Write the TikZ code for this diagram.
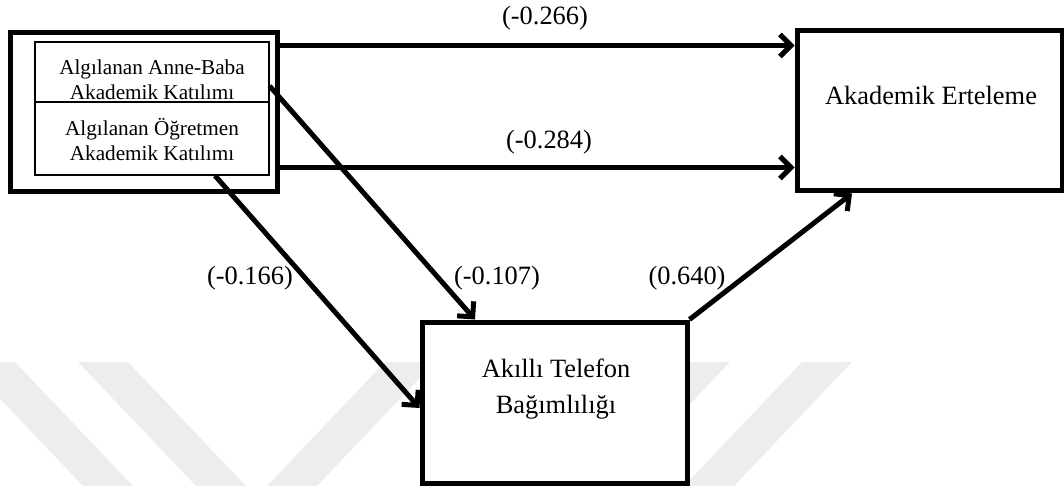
\documentclass[tikz,border=0pt]{standalone}
\usepackage{fontspec}
\setmainfont{Liberation Serif}
\usetikzlibrary{arrows.meta}

\begin{document}
\begin{tikzpicture}[x=0.5pt,y=-0.5pt,every node/.style={shape=rectangle,align=center,inner sep=0pt},
    box/.style={draw,fill=white,line width=2.5pt,minimum width=132.5pt,minimum height=80pt},
    cell/.style={draw,line width=0.6pt,minimum width=117pt},
    arr/.style={line width=2.5pt,-{Straight Barb[length=5.5pt,width=11pt]}},
    lbl/.style={font=\fontsize{13.2}{18}\selectfont},
    small/.style={font=\fontsize{10.6}{12.5}\selectfont},
    wmark/.style={fill=black!7}]
  \useasboundingbox (0,0) rectangle (1064,486);
  \begin{scope}
    \clip (0,0) rectangle (1064,486);
    \foreach \u in {-35,78}
      \fill[wmark] (\u,362) -- ++(50,0) -- ++(118,124) -- ++(-50,0) -- cycle;
    \foreach \u in {385,680,802}
      \fill[wmark] (\u,362) -- ++(50,0) -- ++(-118,124) -- ++(-50,0) -- cycle;
  \end{scope}
  \node[box,minimum width=133.5pt,minimum height=79.5pt] (lft) at (143.5,112.5) {};
  \node[cell,minimum height=30pt] (pa) at (152,72) {};
  \node[cell,minimum height=36.5pt] (pb) at (152,138.5) {};
  \node[small] (ta) at (152,80) {Algılanan Anne-Baba\\Akademik Katılımı};
  \node[small] (tb) at (152,140) {Algılanan Öğretmen\\Akademik Katılımı};
  \node[box] (ae) at (929.5,111) {};
  \node[lbl] (tae) at (931,95) {Akademik Erteleme};
  \node[box,minimum height=80.5pt] (atb) at (554.5,402.5) {};
  \node[lbl] (tatb) at (556,389) {Akıllı Telefon\\Bağımlılığı};
  \coordinate (p1) at ([yshift=-7.5pt]lft.north east);
  \coordinate (p2) at ([yshift=13.5pt]lft.south east);
  \draw[arr] (p1) -- (p1 -| ae.west);
  \draw[arr] (p2) -- (p2 -| ae.west);
  \draw[arr] ([yshift=-7pt]pa.east) -- ([xshift=-39.75pt]atb.north);
  \draw[arr] ([xshift=31.5pt]pb.south) -- ([yshift=-2.75pt]atb.west);
  \draw[arr] (atb.north east) -- ([xshift=-38.75pt]ae.south);
  \node[lbl] (c1) at (545,18) {(-0.266)};
  \node[lbl] (c2) at (549,142) {(-0.284)};
  \node[lbl] (c3) at (250,278) {(-0.166)};
  \node[lbl] (c4) at (497,278) {(-0.107)};
  \node[lbl] (c5) at (687,278) {(0.640)};
\end{tikzpicture}
\end{document}
